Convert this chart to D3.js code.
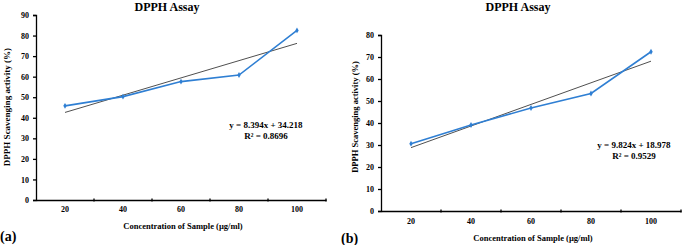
<!DOCTYPE html>
<html lang="en">
<head>
<meta charset="utf-8">
<title>DPPH Assay</title>
<script src="https://d3js.org/d3.v7.min.js"></script>
<style>
  body { margin: 0; background: #fff; }
  text { font-family: "Liberation Serif", "Times New Roman", serif; font-weight: bold; fill: #000; }
</style>
</head>
<body>
<div id="chart"></div>
<script>
// data
var concentrations = ["20", "40", "60", "80", "100"];
var scavengingA = [45.8, 50.3, 57.6, 60.8, 82.5];
var scavengingB = [30.6, 39.1, 46.8, 53.4, 72.4];
var trendA = [42.6, 76.2];   // trend line at 20 and 100
var trendB = [28.8, 68.1];
var equationA = ["y = 8.394x + 34.218", "R\u00b2 = 0.8696"];
var equationB = ["y = 9.824x + 18.978", "R\u00b2 = 0.9529"];
var yTicksA = [0, 10, 20, 30, 40, 50, 60, 70, 80, 90];
var yTicksB = [0, 10, 20, 30, 40, 50, 60, 70, 80];

var W = 685, H = 245;
var svg = d3.select("#chart").append("svg")
    .attr("width", W).attr("height", H);

function panel(cfg) {
  var g = svg.append("g");
  var x = d3.scaleBand().domain(concentrations).range([cfg.left, cfg.right]);
  var y = d3.scaleLinear().domain([0, cfg.yMax]).range([cfg.bottom, cfg.top]);

  // axes
  var xa = g.append("g")
      .attr("transform", "translate(0," + cfg.bottom + ")")
      .call(d3.axisBottom(x).tickSize(0).tickPadding(cfg.xPad));
  xa.select(".domain").attr("stroke", "#000").attr("stroke-width", 1.3);
  xa.selectAll("text").style("font-size", "8px").style("font-family", null);
  // excel style ticks between categories
  g.selectAll(".xt").data(concentrations).enter().append("line")
      .attr("x1", function(d) { return x(d) + x.bandwidth(); })
      .attr("x2", function(d) { return x(d) + x.bandwidth(); })
      .attr("y1", cfg.bottom - 1.5).attr("y2", cfg.bottom + 1.5)
      .attr("stroke", "#000").attr("stroke-width", 1.3);

  var ya = g.append("g")
      .attr("transform", "translate(" + cfg.left + ",0)")
      .call(d3.axisLeft(y).tickValues(cfg.yTicks).tickSize(3).tickPadding(4));
  ya.select(".domain").attr("stroke", "#000").attr("stroke-width", 1.3);
  ya.selectAll("line").attr("stroke", "#000").attr("stroke-width", 1.3);
  ya.selectAll("text").style("font-size", "8px").style("font-family", null);

  var cx = function(i) { return x(concentrations[i]) + x.bandwidth() / 2; };

  // trend line
  g.append("line")
      .attr("x1", cx(0)).attr("y1", y(cfg.trend[0]))
      .attr("x2", cx(4)).attr("y2", y(cfg.trend[1]))
      .attr("stroke", "#222").attr("stroke-width", 0.8);

  // data line
  g.append("path")
      .datum(cfg.values)
      .attr("fill", "none")
      .attr("stroke", "#2f7fd3")
      .attr("stroke-width", 1.6)
      .attr("d", d3.line()
        .x(function(d, i) { return cx(i); })
        .y(function(d) { return y(d); }));
  g.selectAll(".pt").data(cfg.values).enter().append("path")
      .attr("transform", function(d, i) { return "translate(" + cx(i) + "," + y(d) + ")"; })
      .attr("d", d3.symbol().type(d3.symbolDiamond).size(10))
      .attr("fill", "#2f7fd3");

  // titles
  g.append("text").attr("x", cfg.titleX).attr("y", 11)
      .attr("text-anchor", "middle").style("font-size", "12px").text("DPPH Assay");
  g.append("text").attr("x", (cfg.left + cfg.right) / 2 + 2).attr("y", cfg.xTitleY)
      .attr("text-anchor", "middle").style("font-size", "8.5px")
      .text("Concentration of Sample (\u00b5g/ml)");
  g.append("text")
      .attr("transform", "translate(" + cfg.yTitleX + "," + cfg.yTitleY + ") rotate(-90)")
      .attr("text-anchor", "middle").style("font-size", cfg.yTitleSize)
      .text("DPPH Scavenging activity (%)");

  // equation
  g.append("text").attr("x", cfg.eqX).attr("y", cfg.eqY)
      .attr("text-anchor", "middle").style("font-size", "9px").text(cfg.eq[0]);
  g.append("text").attr("x", cfg.eqX).attr("y", cfg.eqY + 11)
      .attr("text-anchor", "middle").style("font-size", "9px").text(cfg.eq[1]);

  // panel letter
  g.append("text").attr("x", cfg.letterX).attr("y", cfg.letterY)
      .style("font-size", "14px").text(cfg.letter);
}

panel({
  left: 36, right: 326, top: 15, bottom: 200, yMax: 90, yTicks: yTicksA,
  values: scavengingA, trend: trendA, eq: equationA, eqX: 266, eqY: 128,
  titleX: 167, xTitleY: 229, xPad: 6, yTitleX: 10, yTitleY: 107, yTitleSize: "9px",
  letter: "(a)", letterX: 0, letterY: 241
});
panel({
  left: 381, right: 681, top: 35, bottom: 211, yMax: 80, yTicks: yTicksB,
  values: scavengingB, trend: trendB, eq: equationB, eqX: 634, eqY: 148,
  titleX: 518, xTitleY: 241, xPad: 7, yTitleX: 358, yTitleY: 117, yTitleSize: "8.5px",
  letter: "(b)", letterX: 341, letterY: 243
});
</script>
</body>
</html>
